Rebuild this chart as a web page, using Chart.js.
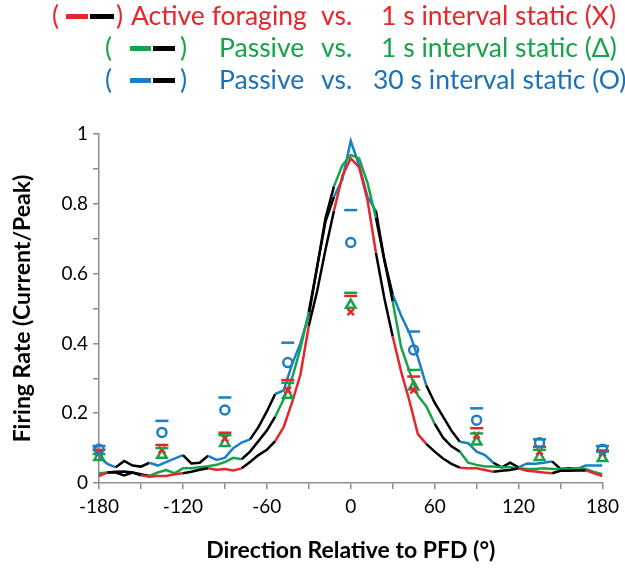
<!DOCTYPE html>
<html>
<head>
<meta charset="utf-8">
<script src="https://cdn.jsdelivr.net/npm/chart.js@4.4.1/dist/chart.umd.min.js"></script>
<style>
  body { margin: 0; background: #fff; }
  #wrap { position: relative; width: 625px; height: 580px; }
  #chart { position: absolute; left: 0; top: 0; }
  .k { position: absolute; font-family: Lato, sans-serif; font-size: 26.5px; line-height: 30px; white-space: pre; }
  .bar { position: absolute; height: 5px; }
</style>
</head>
<body>
<div id="wrap">
  <canvas id="chart" width="625" height="580"></canvas>

  <!-- key, three lines -->
  <div class="k" style="left:52px;top:0px;color:#e5262b">(</div>
  <div class="bar" style="left:66px;top:14px;width:22px;background:#e5262b"></div>
  <div class="bar" style="left:90px;top:14px;width:24px;background:#000"></div>
  <div class="k" style="left:116px;top:0px;color:#e5262b">)</div>
  <div class="k" style="left:131px;top:0px;color:#e5262b">Active foraging</div>
  <div class="k" style="left:321px;top:0px;color:#e5262b">vs.</div>
  <div class="k" style="left:381px;top:0px;color:#e5262b">1 s interval static (X)</div>

  <div class="k" style="left:105px;top:32px;color:#17a34a">(</div>
  <div class="bar" style="left:130px;top:46px;width:21px;background:#17a34a"></div>
  <div class="bar" style="left:153px;top:46px;width:22px;background:#000"></div>
  <div class="k" style="left:180px;top:32px;color:#17a34a">)</div>
  <div class="k" style="left:219px;top:32px;color:#17a34a">Passive</div>
  <div class="k" style="left:321px;top:32px;color:#17a34a">vs.</div>
  <div class="k" style="left:381px;top:32px;color:#17a34a">1 s interval static (Δ)</div>

  <div class="k" style="left:105px;top:64px;color:#1a73b8">(</div>
  <div class="bar" style="left:130px;top:78px;width:21px;background:#1a7fc4"></div>
  <div class="bar" style="left:153px;top:78px;width:22px;background:#000"></div>
  <div class="k" style="left:180px;top:64px;color:#1a73b8">)</div>
  <div class="k" style="left:219px;top:64px;color:#1a73b8">Passive</div>
  <div class="k" style="left:321px;top:64px;color:#1a73b8">vs.</div>
  <div class="k" style="left:373px;top:64px;color:#1a73b8">30 s interval static (O)</div>
</div>

<script>
// tuning curves, sampled every 6 degrees
const angles = [];
for (let a = -180; a <= 180; a += 6) angles.push(a);

const activeRate = [0.02, 0.03, 0.03, 0.022, 0.03, 0.022, 0.018, 0.02, 0.02, 0.025, 0.028, 0.032, 0.038, 0.042, 0.038, 0.04,
  0.036, 0.042, 0.06, 0.08, 0.095, 0.12, 0.16, 0.23, 0.31, 0.45, 0.55, 0.67, 0.78, 0.88, 0.93, 0.905, 0.81, 0.66, 0.53, 0.42,
  0.32, 0.235, 0.14, 0.112, 0.09, 0.07, 0.055, 0.044, 0.042, 0.042, 0.037, 0.032, 0.035, 0.037, 0.042, 0.035, 0.033, 0.03,
  0.028, 0.035, 0.035, 0.036, 0.036, 0.028, 0.02];
const passive1Rate = [0.028, 0.03, 0.032, 0.033, 0.03, 0.025, 0.02, 0.03, 0.037, 0.028, 0.042, 0.042, 0.045, 0.048, 0.052, 0.06,
  0.072, 0.068, 0.09, 0.12, 0.15, 0.19, 0.24, 0.3, 0.385, 0.49, 0.62, 0.76, 0.85, 0.91, 0.94, 0.93, 0.86, 0.76, 0.64, 0.52,
  0.39, 0.32, 0.25, 0.22, 0.17, 0.13, 0.105, 0.09, 0.058, 0.052, 0.047, 0.047, 0.045, 0.045, 0.042, 0.04, 0.04, 0.042,
  0.04, 0.04, 0.04, 0.042, 0.04, 0.032, 0.025];
const passive30Rate = [0.075, 0.055, 0.045, 0.063, 0.05, 0.047, 0.058, 0.05, 0.06, 0.07, 0.08, 0.056, 0.058, 0.078, 0.066, 0.072,
  0.1, 0.116, 0.125, 0.16, 0.205, 0.255, 0.265, 0.34, 0.4, 0.48, 0.62, 0.75, 0.82, 0.87, 0.98, 0.91, 0.82, 0.78, 0.64, 0.54,
  0.48, 0.43, 0.36, 0.28, 0.23, 0.19, 0.15, 0.118, 0.114, 0.09, 0.08, 0.058, 0.045, 0.058, 0.045, 0.056, 0.055, 0.058,
  0.062, 0.04, 0.042, 0.04, 0.05, 0.05, 0.05];

// 1 = drawn in colour, 0 = drawn black (segment starting at that angle)
const activeSig = [1, 0, 0, 0, 0, 1, 1, 1, 1, 1, 0, 0, 0, 1, 1, 1, 1, 0, 0, 0, 0, 1, 1, 1, 1, 0, 0, 0, 1, 1, 1, 1, 1, 0, 0, 1,
  1, 1, 1, 0, 0, 0, 0, 1, 1, 1, 1, 0, 0, 0, 1, 1, 1, 1, 0, 0, 0, 0, 1, 1, 1];
const passive1Sig = [1, 0, 0, 0, 0, 0, 1, 1, 1, 1, 1, 1, 1, 1, 1, 1, 1, 0, 0, 0, 0, 1, 1, 1, 1, 0, 0, 0, 1, 1, 1, 1, 1, 0, 0, 1,
  1, 1, 1, 1, 0, 0, 0, 1, 1, 1, 1, 1, 1, 1, 1, 1, 1, 1, 1, 1, 1, 1, 1, 1, 1];
const passive30Sig = [1, 1, 0, 0, 0, 0, 1, 1, 1, 1, 0, 0, 0, 1, 1, 1, 1, 1, 0, 0, 0, 1, 1, 1, 1, 0, 0, 0, 1, 1, 1, 1, 1, 0, 0, 1,
  1, 1, 1, 0, 0, 0, 0, 1, 1, 1, 1, 0, 0, 0, 1, 1, 1, 1, 0, 0, 0, 1, 1, 1, 1];

// static test values, every 45 degrees
const markerAngles = [-180, -135, -90, -45, 0, 45, 90, 135, 180];
const activeDash = [0.095, 0.109, 0.144, 0.295, 0.536, 0.305, 0.157, 0.104, 0.093];
const activeX = [0.086, 0.095, 0.128, 0.266, 0.49, 0.266, 0.137, 0.09, 0.086];
const passive1Dash = [0.083, 0.1, 0.137, 0.287, 0.545, 0.324, 0.142, 0.095, 0.09];
const passive1Tri = [0.074, 0.08, 0.114, 0.252, 0.51, 0.276, 0.118, 0.074, 0.071];
const passive30Dash = [0.106, 0.178, 0.245, 0.402, 0.782, 0.434, 0.214, 0.125, 0.106];
const passive30Circle = [0.097, 0.145, 0.209, 0.345, 0.689, 0.381, 0.18, 0.115, 0.097];

const RED = "#e5262b";
const GREEN = "#17a34a";
const BLUE = "#1a7fc4";
const BLACK = "#000";
const AXIS = "#8e8e8e";

const pts = (xs, ys) => xs.map((x, i) => ({ x: x, y: ys[i] }));

const curve = (values, sig, color) => ({
  data: pts(angles, values),
  borderColor: color,
  borderWidth: 2.5,
  pointRadius: 0,
  tension: 0,
  order: 2,
  segment: {
    borderColor: (ctx) => (sig[ctx.p0DataIndex] ? color : BLACK),
  },
});

const marks = (values, color, style, radius) => ({
  data: pts(markerAngles, values),
  showLine: false,
  clip: false,
  pointStyle: style,
  pointRadius: radius,
  pointBorderColor: color,
  pointBackgroundColor: "rgba(0,0,0,0)",
  pointBorderWidth: 2.5,
  order: 1,
});

new Chart(document.getElementById("chart"), {
  type: "line",
  data: {
    datasets: [
      curve(activeRate, activeSig, RED),
      curve(passive1Rate, passive1Sig, GREEN),
      curve(passive30Rate, passive30Sig, BLUE),
      marks(passive30Dash, BLUE, "line", 6.5),
      marks(passive30Circle, BLUE, "circle", 4.5),
      marks(activeDash, RED, "line", 6.5),
      marks(passive1Dash, GREEN, "line", 6.5),
      marks(activeX, RED, "crossRot", 4.5),
      marks(passive1Tri, GREEN, "triangle", 5.5),
    ],
  },
  options: {
    responsive: false,
    animation: false,
    devicePixelRatio: 1,
    layout: { padding: { top: 134, right: 17, bottom: 0, left: 0 } },
    plugins: { legend: { display: false }, tooltip: { enabled: false } },
    scales: {
      x: {
        type: "linear",
        min: -180,
        max: 180,
        afterFit: (s) => { s.height = 97; },
        ticks: {
          stepSize: 30,
          autoSkip: false,
          maxRotation: 0,
          padding: 6,
          color: "#000",
          font: { family: "Lato, sans-serif", size: 19 },
          callback: (v) => (v % 60 === 0 ? String(v) : ""),
        },
        grid: { drawOnChartArea: false, drawTicks: true, tickLength: 6, color: AXIS, lineWidth: 1.5 },
        border: { color: AXIS, width: 1.5 },
        title: {
          display: true,
          text: "Direction Relative to PFD (°)",
          color: "#000",
          font: { family: "Lato, sans-serif", size: 23, weight: "bold" },
          padding: { top: 0, bottom: 16 },
        },
      },
      y: {
        min: 0,
        max: 1,
        afterFit: (s) => { s.width = 99; },
        ticks: {
          stepSize: 0.1,
          padding: 5,
          color: "#000",
          font: { family: "Lato, sans-serif", size: 19 },
          callback: (v) => (Math.round(v * 10) % 2 === 0 ? String(Math.round(v * 10) / 10) : ""),
        },
        grid: { drawOnChartArea: false, drawTicks: true, tickLength: 6, color: AXIS, lineWidth: 1.5 },
        border: { color: AXIS, width: 1.5 },
        title: {
          display: true,
          text: "Firing Rate (Current/Peak)",
          color: "#000",
          font: { family: "Lato, sans-serif", size: 23, weight: "bold" },
          padding: { top: 9, bottom: 0 },
        },
      },
    },
  },
});
</script>
</body>
</html>
